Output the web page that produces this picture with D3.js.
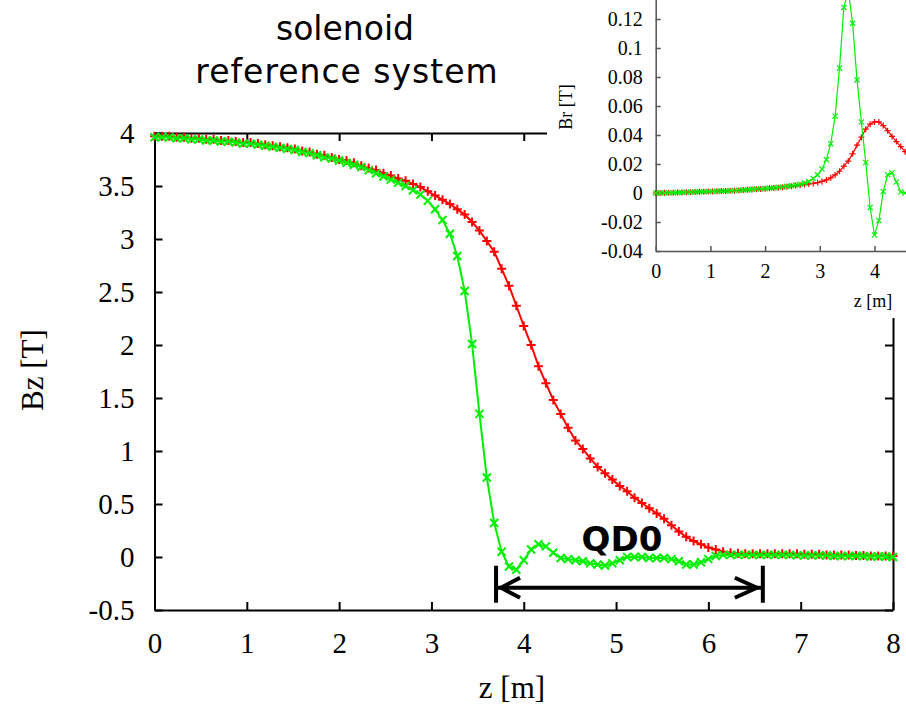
<!DOCTYPE html>
<html>
<head>
<meta charset="utf-8">
<script src="https://cdn.jsdelivr.net/npm/d3@7"></script>
<style>
  html, body { margin: 0; padding: 0; background: #fff; }
  svg { display: block; }
</style>
</head>
<body>
<script>
// main plot: Bz along z, sampled every 0.08 m
const zMain = [0,0.08,0.16,0.24,0.32,0.4,0.48,0.56,0.64,0.72,0.8,0.88,0.96,1.04,1.12,1.2,1.28,1.36,1.44,1.52,1.6,1.68,1.76,1.84,1.92,2,2.08,2.16,2.24,2.32,2.4,2.48,2.56,2.64,2.72,2.8,2.88,2.96,3.04,3.12,3.2,3.28,3.36,3.44,3.52,3.6,3.68,3.76,3.84,3.92,4,4.08,4.16,4.24,4.32,4.4,4.48,4.56,4.64,4.72,4.8,4.88,4.96,5.04,5.12,5.2,5.28,5.36,5.44,5.52,5.6,5.68,5.76,5.84,5.92,6,6.08,6.16,6.24,6.32,6.4,6.48,6.56,6.64,6.72,6.8,6.88,6.96,7.04,7.12,7.2,7.28,7.36,7.44,7.52,7.6,7.68,7.76,7.84,7.92,8];
const bzRed = [3.97,3.97,3.97,3.96,3.96,3.95,3.95,3.94,3.94,3.93,3.93,3.92,3.91,3.91,3.9,3.89,3.88,3.87,3.86,3.85,3.83,3.82,3.8,3.79,3.77,3.75,3.74,3.72,3.69,3.67,3.65,3.62,3.6,3.57,3.55,3.52,3.49,3.45,3.41,3.37,3.33,3.28,3.23,3.16,3.08,2.98,2.88,2.72,2.56,2.37,2.18,2,1.8,1.64,1.48,1.35,1.22,1.1,1.02,0.93,0.85,0.79,0.73,0.67,0.62,0.56,0.51,0.46,0.41,0.36,0.3,0.24,0.19,0.15,0.12,0.09,0.07,0.05,0.04,0.035,0.03,0.03,0.03,0.03,0.03,0.03,0.03,0.03,0.025,0.025,0.025,0.02,0.02,0.02,0.02,0.015,0.015,0.01,0.01,0.01,0.01];
const bzGreen = [3.96,3.96,3.96,3.95,3.95,3.94,3.94,3.93,3.93,3.92,3.92,3.91,3.9,3.9,3.89,3.88,3.87,3.86,3.85,3.84,3.82,3.81,3.79,3.77,3.76,3.74,3.72,3.7,3.68,3.65,3.62,3.59,3.56,3.53,3.5,3.46,3.42,3.36,3.28,3.18,3.05,2.84,2.51,2.01,1.35,0.75,0.32,0.05,-0.09,-0.12,-0.03,0.07,0.12,0.1,0.04,-0.01,-0.02,-0.03,-0.04,-0.06,-0.07,-0.08,-0.06,-0.03,0,0,0,-0.01,-0.01,-0.01,-0.02,-0.04,-0.07,-0.07,-0.05,-0.02,0.01,0.02,0.02,0.02,0.02,0.02,0.02,0.02,0.02,0.02,0.02,0.015,0.015,0.015,0.015,0.015,0.01,0.01,0.01,0.01,0.01,0.005,0.005,0.005,0];

const xTicksMain = [0,1,2,3,4,5,6,7,8];
const yTicksMain = [-0.5,0,0.5,1,1.5,2,2.5,3,3.5,4];

// inset: Br along z
const zInset = [0,0.08,0.16,0.24,0.32,0.4,0.48,0.56,0.64,0.72,0.8,0.88,0.96,1.04,1.12,1.2,1.28,1.36,1.44,1.52,1.6,1.68,1.76,1.84,1.92,2,2.08,2.16,2.24,2.32,2.4,2.48,2.56,2.64,2.72,2.8,2.88,2.96,3.04,3.12,3.2,3.28,3.36,3.44,3.52,3.6,3.68,3.76,3.84,3.92,4,4.08,4.16,4.24,4.32,4.4,4.48,4.56,4.64];
const brGreen = [0,0,0.0001,0.0002,0.0002,0.0003,0.0004,0.0005,0.0006,0.0007,0.0008,0.0009,0.001,0.0011,0.0012,0.0013,0.0014,0.0016,0.0017,0.0019,0.0021,0.0023,0.0025,0.0027,0.0029,0.0031,0.0033,0.0036,0.0039,0.0042,0.0046,0.005,0.0055,0.006,0.0068,0.008,0.01,0.0125,0.0165,0.023,0.034,0.053,0.086,0.128,0.14,0.117,0.078,0.049,0.021,-0.01,-0.029,-0.019,0.001,0.0126,0.014,0.0076,0.0007,0,0];
const brRed = [0,0,0.0001,0.0002,0.0002,0.0003,0.0004,0.0005,0.0006,0.0007,0.0008,0.0009,0.001,0.0011,0.0012,0.0013,0.0014,0.0015,0.0016,0.0018,0.002,0.0022,0.0024,0.0026,0.0028,0.003,0.0032,0.0034,0.0037,0.004,0.0043,0.0047,0.0051,0.0054,0.0058,0.0062,0.0066,0.0072,0.008,0.009,0.0105,0.0125,0.015,0.0185,0.022,0.027,0.033,0.0385,0.044,0.0475,0.049,0.049,0.0465,0.043,0.039,0.0355,0.032,0.0285,0.025];

const xTicksInset = [0,1,2,3,4];
const yTicksInset = [-0.04,-0.02,0,0.02,0.04,0.06,0.08,0.1,0.12];

// QD0 extent (m) and arrow level (T)
const qd0Range = [3.7, 6.59];
const qd0Level = -0.29;

const W = 906, H = 708;
const red = "#ff0000", green = "#00f000";
const serif = "'Liberation Serif', 'DejaVu Serif', serif";

const svg = d3.select("body").append("svg")
  .attr("width", W).attr("height", H)
  .attr("viewBox", [0, 0, W, H]);

// ---------- main plot ----------
const x = d3.scaleLinear().domain([0, 8]).range([154.5, 893]);
const y = d3.scaleLinear().domain([-0.5, 4]).range([610, 133]);

function styleAxis(g, size) {
  g.selectAll("path").attr("stroke", "#000").attr("stroke-width", 2);
  g.selectAll("line").attr("stroke", "#000").attr("stroke-width", 2);
  g.selectAll("text").attr("font-family", serif).attr("font-size", size).attr("fill", "#000");
}

svg.append("g").attr("transform", "translate(0,610)")
  .call(d3.axisBottom(x).tickValues(xTicksMain).tickFormat(d3.format("d"))
    .tickSizeInner(-8).tickSizeOuter(0).tickPadding(22))
  .call(g => styleAxis(g, 29));
svg.append("g").attr("transform", "translate(0,133)")
  .call(d3.axisTop(x).tickValues(xTicksMain).tickFormat("")
    .tickSizeInner(-8).tickSizeOuter(0))
  .call(g => styleAxis(g, 29));
svg.append("g").attr("transform", "translate(154.5,0)")
  .call(d3.axisLeft(y).tickValues(yTicksMain).tickFormat(d => String(d))
    .tickSizeInner(-8).tickSizeOuter(0).tickPadding(20))
  .call(g => styleAxis(g, 29));
svg.append("g").attr("transform", "translate(893,0)")
  .call(d3.axisRight(y).tickValues(yTicksMain).tickFormat("")
    .tickSizeInner(-8).tickSizeOuter(0))
  .call(g => styleAxis(g, 29));

const plusPath = s => `M${-s},0H${s}M0,${-s}V${s}`;
const crossPath = s => `M${-s},${-s}L${s},${s}M${-s},${s}L${s},${-s}`;

function drawSeries(g, xs, ys, sx, sy, color, marker, lw, ms) {
  const pts = xs.map((v, i) => [v, ys[i]]);
  g.append("path").datum(pts)
    .attr("fill", "none").attr("stroke", color).attr("stroke-width", lw)
    .attr("d", d3.line().x(d => sx(d[0])).y(d => sy(d[1])));
  g.append("g").selectAll("path").data(pts).join("path")
    .attr("transform", d => `translate(${sx(d[0])},${sy(d[1])})`)
    .attr("d", marker(ms))
    .attr("fill", "none").attr("stroke", color).attr("stroke-width", lw);
}

const mainG = svg.append("g");
drawSeries(mainG, zMain, bzRed, x, y, red, plusPath, 2, 4.5);
drawSeries(mainG, zMain, bzGreen, x, y, green, crossPath, 2, 4);

svg.append("text").attr("x", 512).attr("y", 698).attr("text-anchor", "middle")
  .attr("font-family", serif).attr("font-size", 31).text("z [m]");
svg.append("text").attr("transform", "translate(43,370) rotate(-90)")
  .attr("text-anchor", "middle").attr("font-family", serif).attr("font-size", 31)
  .text("Bz [T]");

// QD0 arrow
const ay = y(qd0Level), ax0 = x(qd0Range[0]), ax1 = x(qd0Range[1]);
const arrow = svg.append("g").attr("stroke", "#000").attr("stroke-width", 4).attr("fill", "none");
arrow.append("line").attr("x1", ax0).attr("x2", ax1).attr("y1", ay).attr("y2", ay);
arrow.append("line").attr("x1", ax0).attr("x2", ax0).attr("y1", ay - 22).attr("y2", ay + 15);
arrow.append("line").attr("x1", ax1).attr("x2", ax1).attr("y1", ay - 22).attr("y2", ay + 15);
arrow.append("path").attr("d", `M${ax0 + 24},${ay - 10}L${ax0 + 5},${ay}L${ax0 + 24},${ay + 10}`);
arrow.append("path").attr("d", `M${ax1 - 28},${ay - 10}L${ax1 - 6},${ay}L${ax1 - 28},${ay + 10}`);
svg.append("text").attr("x", 622).attr("y", 551).attr("text-anchor", "middle")
  .attr("font-family", "'DejaVu Sans', sans-serif").attr("font-weight", "bold")
  .attr("font-size", 34).text("QD0");

// title
const title = svg.append("g").attr("font-family", "'DejaVu Sans', sans-serif")
  .attr("font-size", 33).attr("text-anchor", "middle").attr("fill", "#000");
title.append("text").attr("x", 345).attr("y", 40).text("solenoid");
title.append("text").attr("x", 347).attr("y", 83).attr("letter-spacing", 1)
  .text("reference system");

// ---------- inset ----------
svg.append("rect").attr("x", 547).attr("y", 0).attr("width", W - 547).attr("height", 318)
  .attr("fill", "#fff");

const xi = d3.scaleLinear().domain([0, 8]).range([655.7, 655.7 + 8 * 54.7]);
const yi = d3.scaleLinear().domain([-0.04, 0.14]).range([251, 251 - 0.18 * 1450]);
const axisGrey = "#555";

function styleInset(g) {
  g.selectAll("path").attr("stroke", axisGrey).attr("stroke-width", 1.5);
  g.selectAll("line").attr("stroke", axisGrey).attr("stroke-width", 1.5);
  g.selectAll("text").attr("font-family", serif).attr("font-size", 20).attr("fill", "#000");
}

svg.append("g").attr("transform", "translate(0,251)")
  .call(d3.axisBottom(xi).tickValues(xTicksInset).tickFormat(d3.format("d"))
    .tickSizeInner(-5).tickSizeOuter(0).tickPadding(13))
  .call(styleInset);
svg.append("g").attr("transform", "translate(655.7,0)")
  .call(d3.axisLeft(yi).tickValues(yTicksInset).tickFormat(d => String(d))
    .tickSizeInner(-5).tickSizeOuter(0).tickPadding(13))
  .call(styleInset);

const insetG = svg.append("g");
drawSeries(insetG, zInset, brRed, xi, yi, red, plusPath, 1.2, 3);
drawSeries(insetG, zInset, brGreen, xi, yi, green, crossPath, 1.2, 2.6);

svg.append("text").attr("x", 873).attr("y", 307).attr("text-anchor", "middle")
  .attr("font-family", serif).attr("font-size", 18).text("z [m]");
svg.append("text").attr("transform", "translate(572,107) rotate(-90)")
  .attr("text-anchor", "middle").attr("font-family", serif).attr("font-size", 18)
  .text("Br [T]");
</script>
</body>
</html>
